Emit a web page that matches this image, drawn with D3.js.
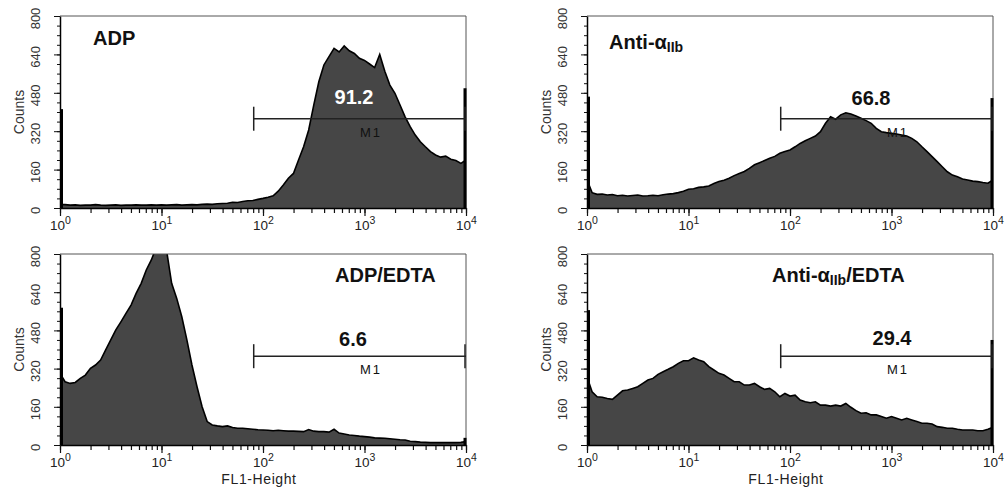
<!DOCTYPE html>
<html><head><meta charset="utf-8">
<script src="https://cdn.jsdelivr.net/npm/d3@7"></script>
<style>body{margin:0;background:#fff}svg{display:block}</style>
</head><body>
<svg id="chart" width="1007" height="489"></svg>
<script>
// ---- data ----
const logFL1 = [0,0.05,0.1,0.15,0.2,0.25,0.3,0.35,0.4,0.45,0.5,0.55,0.6,0.65,0.7,0.75,0.8,0.85,0.9,0.95,
  1,1.05,1.1,1.15,1.2,1.25,1.3,1.35,1.4,1.45,1.5,1.55,1.6,1.65,1.7,1.75,1.8,1.85,1.9,1.95,
  2,2.05,2.1,2.15,2.2,2.25,2.3,2.35,2.4,2.45,2.5,2.55,2.6,2.65,2.7,2.75,2.8,2.85,2.9,2.95,
  3,3.05,3.1,3.15,3.2,3.25,3.3,3.35,3.4,3.45,3.5,3.55,3.6,3.65,3.7,3.75,3.8,3.85,3.9,3.95,4];
const countsADP = [14,14,12,13,11,12,12,14,12,11,12,13,11,12,12,13,12,12,13,12,
  13,12,13,14,12,13,14,13,15,16,15,18,19,20,24,23,27,30,31,36,
  40,45,51,70,96,124,144,200,255,325,429,526,596,631,665,650,675,655,644,624,
  615,600,585,640,570,512,478,429,380,339,304,276,255,235,221,212,216,203,198,186,200];
const countsAntiIIb = [117,64,57,58,54,56,51,53,50,52,54,50,51,53,51,55,58,60,64,70,
  78,80,86,88,92,102,110,116,124,135,144,152,165,180,189,198,207,215,228,235,
  242,255,269,280,290,300,318,353,380,370,388,397,392,383,374,364,353,332,318,314,
  311,308,304,300,290,276,255,235,214,193,172,151,137,130,121,117,112,110,106,103,117];
const countsADPEDTA = [300,265,258,262,279,293,321,335,356,398,440,482,516,551,586,635,677,733,775,830,
  850,815,677,614,537,440,335,244,160,98,84,80,77,80,73,70,70,68,66,64,
  63,62,60,62,60,58,58,57,56,65,58,56,56,54,66,50,46,42,40,37,
  35,33,30,29,28,26,24,22,21,16,14,12,11,10,10,10,10,10,10,11,14];
const countsAntiIIbEDTA = [286,223,202,200,195,191,209,227,230,237,244,258,272,279,296,307,317,328,342,353,
  353,365,356,349,328,314,300,293,279,265,265,251,251,258,244,233,237,223,202,216,
  205,209,188,181,177,181,167,167,163,167,163,174,158,144,133,135,126,126,119,112,
  119,112,105,112,105,98,91,91,88,77,74,70,70,66,63,63,63,60,60,66,74];
const firstChannelCounts = [412, 464, 575, 565];
const lastChannelCounts = [499, 458, 30, 440];
const percentInM1 = ["91.2", "66.8", "6.6", "29.4"];
const markerStart = 81, markerEnd = 10000, markerLevel = 372, markerLabelAt = 1160;
const yTickValues = [0, 160, 320, 480, 640, 800];
const xTickExponents = [0, 1, 2, 3, 4];
const panelTitles = [
  [{t:"ADP"}],
  [{t:"Anti-α"}, {t:"IIb", sub:true}],
  [{t:"ADP/EDTA"}],
  [{t:"Anti-α"}, {t:"IIb", sub:true}, {t:"/EDTA"}]
];
const seriesList = [countsADP, countsAntiIIb, countsADPEDTA, countsAntiIIbEDTA];

// ---- layout ----
const layout = [
  {x:60,  y:16,  w:406, h:192, title:[93,45],  pct:[354,104], pctFill:"#fff", xTitle:false},
  {x:587, y:16,  w:406, h:192, title:[609,49], pct:[871,105], pctFill:"#111", xTitle:false},
  {x:60,  y:254, w:406, h:191, title:[335,282],pct:[353,346], pctFill:"#111", xTitle:true},
  {x:587, y:254, w:406, h:191, title:[772,282],pct:[892,345], pctFill:"#111", xTitle:true}
];
const FONT = "'Liberation Sans', Arial, Helvetica, sans-serif";
const NARROW = "'Liberation Sans Narrow', 'Arial Narrow', 'Liberation Sans', Arial, sans-serif";

const svg = d3.select("#chart");

layout.forEach((L, i) => {
  const x = d3.scaleLog().domain([1, 1e4]).range([L.x, L.x + L.w]);
  const y = d3.scaleLinear().domain([0, 800]).range([L.y + L.h, L.y]);
  const g = svg.append("g");
  const data = logFL1.map((d, k) => ({v: Math.pow(10, d), c: seriesList[i][k]}));

  const clipId = "clip" + i;
  svg.append("clipPath").attr("id", clipId).append("rect")
    .attr("x", L.x).attr("y", L.y).attr("width", L.w).attr("height", L.h);

  const hg = g.append("g").attr("clip-path", `url(#${clipId})`);
  hg.append("path").datum(data)
    .attr("d", d3.area().x(d => x(d.v)).y0(y(0)).y1(d => y(d.c)))
    .attr("fill", "#464646");
  hg.append("path").datum(data)
    .attr("d", d3.line().x(d => x(d.v)).y(d => y(d.c)))
    .attr("fill", "none").attr("stroke", "#000").attr("stroke-width", 1.6);

  // frame (top, right)
  g.append("path")
    .attr("d", `M${L.x},${L.y}H${L.x + L.w}V${L.y + L.h}`)
    .attr("fill", "none").attr("stroke", "#555").attr("stroke-width", 1);

  // first / last channel bars
  g.append("line").attr("x1", x(1) + 1.5).attr("x2", x(1) + 1.5)
    .attr("y1", y(0)).attr("y2", y(firstChannelCounts[i]))
    .attr("stroke", "#000").attr("stroke-width", 3);
  g.append("line").attr("x1", x(1e4) - 1).attr("x2", x(1e4) - 1)
    .attr("y1", y(0)).attr("y2", y(lastChannelCounts[i]))
    .attr("stroke", "#000").attr("stroke-width", 3);

  // M1 marker
  const my = y(markerLevel);
  const mk = g.append("g").attr("stroke", "#222").attr("stroke-width", 1.5);
  mk.append("line").attr("x1", x(markerStart)).attr("x2", x(markerEnd)).attr("y1", my).attr("y2", my);
  mk.append("line").attr("x1", x(markerStart)).attr("x2", x(markerStart)).attr("y1", my - 12).attr("y2", my + 12);
  mk.append("line").attr("x1", x(markerEnd) - 1).attr("x2", x(markerEnd) - 1).attr("y1", my - 12).attr("y2", my + 12);
  g.append("text").attr("x", x(markerLabelAt)).attr("y", my + 18)
    .attr("text-anchor", "middle").attr("font-family", FONT).attr("font-size", 13)
    .attr("letter-spacing", 2).attr("fill", "#111").text("M1");

  g.append("text").attr("x", L.pct[0]).attr("y", L.pct[1])
    .attr("text-anchor", "middle").attr("font-family", FONT).attr("font-size", 20)
    .attr("font-weight", "bold").attr("fill", L.pctFill).text(percentInM1[i]);

  // title
  const tt = g.append("text").attr("x", L.title[0]).attr("y", L.title[1])
    .attr("font-family", FONT).attr("font-weight", "bold").attr("font-size", 20).attr("fill", "#111");
  panelTitles[i].forEach(s => {
    const ts = tt.append("tspan").text(s.t);
    if (s.sub) ts.attr("font-size", 14).attr("dy", 3);
    else if (s !== panelTitles[i][0]) ts.attr("dy", -3);
  });

  // y axis
  const yMinor = g.append("g").attr("transform", `translate(${L.x},0)`)
    .call(d3.axisLeft(y).tickValues(d3.range(0, 801, 40)).tickSize(3).tickFormat(""));
  yMinor.select(".domain").remove();
  yMinor.selectAll("line").attr("stroke", "#111");
  const yAx = g.append("g").attr("transform", `translate(${L.x},0)`)
    .call(d3.axisLeft(y).tickValues(yTickValues).tickSize(6).tickSizeOuter(0));
  yAx.select(".domain").attr("stroke", "#000").attr("stroke-width", 1.5);
  yAx.selectAll("line").attr("stroke", "#111");
  yAx.selectAll("text").attr("x", null).attr("dy", "0.35em")
    .attr("transform", "translate(-25,2) rotate(-90)")
    .attr("text-anchor", "middle").attr("font-family", NARROW).attr("font-size", 13).attr("fill", "#333");

  g.append("text").attr("transform", `translate(${L.x - 41},${L.y + L.h / 2}) rotate(-90)`)
    .attr("dy", "0.35em").attr("text-anchor", "middle")
    .attr("font-family", NARROW).attr("font-size", 14).attr("fill", "#333").text("Counts");

  // x axis
  const xMinor = g.append("g").attr("transform", `translate(0,${L.y + L.h})`)
    .call(d3.axisBottom(x).tickValues(x.ticks()).tickSize(5).tickFormat(""));
  xMinor.select(".domain").remove();
  xMinor.selectAll("line").attr("stroke", "#111").attr("stroke-width", 1.2);
  const majors = xTickExponents.map(e => Math.pow(10, e));
  const xAx = g.append("g").attr("transform", `translate(0,${L.y + L.h})`)
    .call(d3.axisBottom(x).tickValues(majors).tickSize(8).tickSizeOuter(0).tickFormat(""));
  xAx.select(".domain").attr("stroke", "#000").attr("stroke-width", 1.5);
  xAx.selectAll("line").attr("stroke", "#111").attr("stroke-width", 1.2);
  xAx.selectAll(".tick").each(function(v, k) {
    const t = d3.select(this).append("text").attr("y", 22).attr("text-anchor", "middle")
      .attr("font-family", FONT).attr("font-size", 13.5).attr("fill", "#222");
    t.append("tspan").text("10");
    t.append("tspan").attr("font-size", 10.5).attr("dy", -6).text(String(xTickExponents[k]));
  });

  if (L.xTitle) {
    g.append("text").attr("x", L.x + L.w / 2 - 4).attr("y", L.y + L.h + 39)
      .attr("text-anchor", "middle").attr("font-family", FONT).attr("font-size", 14)
      .attr("letter-spacing", 0.6).attr("fill", "#222").text("FL1-Height");
  }
});
</script>
</body></html>
